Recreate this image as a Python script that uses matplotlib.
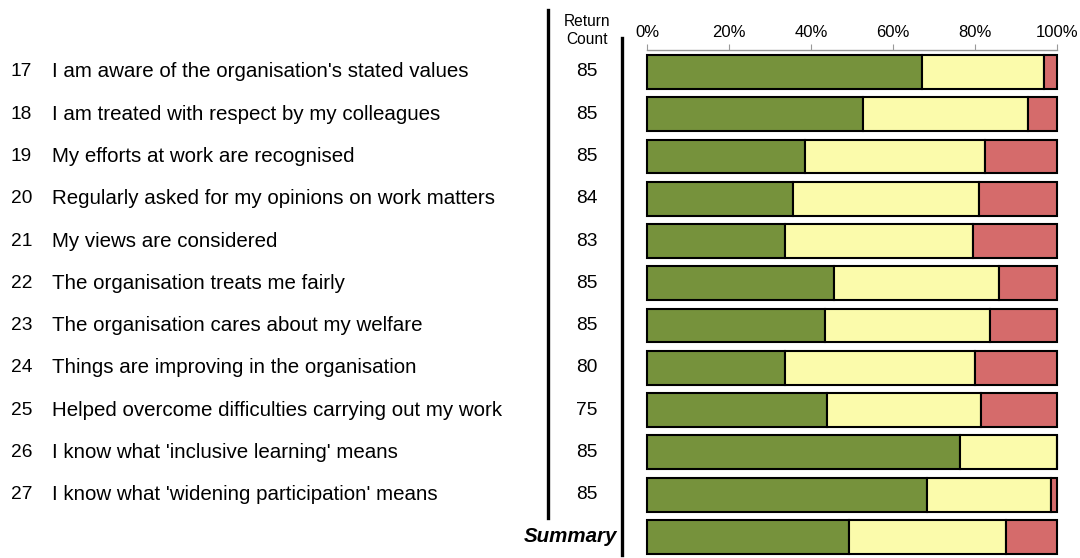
import matplotlib.pyplot as plt
import matplotlib.transforms as mtransforms
from matplotlib.lines import Line2D
import numpy as np

plt.rcParams['font.family'] = ['Liberation Sans', 'DejaVu Sans']

# Data
numbers = ["17", "18", "19", "20", "21", "22", "23", "24", "25", "26", "27", ""]
questions = [
    "I am aware of the organisation's stated values",
    "I am treated with respect by my colleagues",
    "My efforts at work are recognised",
    "Regularly asked for my opinions on work matters",
    "My views are considered",
    "The organisation treats me fairly",
    "The organisation cares about my welfare",
    "Things are improving in the organisation",
    "Helped overcome difficulties carrying out my work",
    "I know what 'inclusive learning' means",
    "I know what 'widening participation' means",
    "Summary",
]
return_count = [85, 85, 85, 84, 83, 85, 85, 80, 75, 85, 85, None]
positive = [67.1, 52.7, 38.5, 35.6, 33.7, 45.6, 43.4, 33.7, 43.9, 76.3, 68.3, 49.3]
neutral = [29.7, 40.2, 43.9, 45.3, 45.8, 40.3, 40.3, 46.3, 37.6, 23.7, 30.2, 38.3]
negative = [3.2, 7.1, 17.6, 19.1, 20.5, 14.1, 16.3, 20.0, 18.5, 0.0, 1.5, 12.4]

W, H = 1080, 558
fig = plt.figure(figsize=(W / 100, H / 100), dpi=100)
ax = fig.add_axes([647 / W, 0, (1057 - 647) / W, 1 - 50 / H])

y = np.arange(len(questions))
pos = np.array(positive)
neu = np.array(neutral)
neg = np.array(negative)
bh = 0.8
kw = dict(height=bh, edgecolor="black", linewidth=1.5, clip_on=False)
ax.barh(y, pos, left=0, color="#76923C", **kw)
ax.barh(y, neu, left=pos, color="#FBFBAB", **kw)
ax.barh(y, neg, left=pos + neu, color="#D56B6B", **kw)

ax.set_xlim(0, 100)
ax.set_ylim(len(questions) - 0.5, -0.52)
ax.xaxis.tick_top()
ax.set_xticks([0, 20, 40, 60, 80, 100])
ax.set_xticklabels(["0%", "20%", "40%", "60%", "80%", "100%"], fontsize=12)
ax.tick_params(axis="x", color="#999999", length=4, pad=3)
ax.set_yticks([])
for s in ["left", "right", "bottom"]:
    ax.spines[s].set_visible(False)
ax.spines["top"].set_color("#999999")
ax.spines["top"].set_linewidth(1.0)

# labels on the left, positioned by data row
tr = mtransforms.blended_transform_factory(fig.transFigure, ax.transData)
for i in range(len(questions)):
    if questions[i] == "Summary":
        fig.text(617 / W, i, "Summary", transform=tr, ha="right", va="center",
                 fontsize=14.8, fontweight="bold", fontstyle="italic")
        continue
    fig.text(11 / W, i, numbers[i], transform=tr, ha="left", va="center", fontsize=13.8)
    fig.text(52 / W, i, questions[i], transform=tr, ha="left", va="center", fontsize=14.8)
    fig.text(587 / W, i, str(return_count[i]), transform=tr, ha="center", va="center", fontsize=13.8)

fig.text(587 / W, 1 - 31 / H, "Return\nCount", ha="center", va="center",
         fontsize=11.2, linespacing=1.25)

fig.add_artist(Line2D([548 / W, 548 / W], [1 - 10 / H, 1 - 518 / H],
                      color="black", linewidth=2.4, transform=fig.transFigure))
fig.add_artist(Line2D([622 / W, 622 / W], [1 - 38 / H, 1 - 555 / H],
                      color="black", linewidth=2.4, transform=fig.transFigure))

fig.savefig("out.png", dpi=100)
